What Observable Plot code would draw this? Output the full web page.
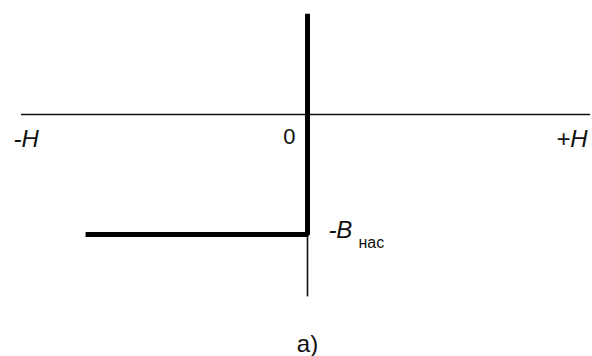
<!DOCTYPE html>
<html>
<head>
<meta charset="utf-8">
<script src="https://cdn.jsdelivr.net/npm/d3@7"></script>
<script src="https://cdn.jsdelivr.net/npm/@observablehq/plot@0.6"></script>
<style>
  html, body { margin: 0; padding: 0; background: #fff; }
  svg { display: block; }
</style>
</head>
<body>
<div id="chart"></div>
<script>
// H-axis extent (field strength, arbitrary units)
const hAxisFrom = -1;
const hAxisTo = 0.99;
// B-axis thin extension below the curve
const bAxisFrom = -1.52;
const bAxisTo = -1;
// Magnetisation curve (thick): vertical branch at H=0, then saturation -Bнас
const curveH = [0, 0, -0.776];
const curveB = [0.84, -1, -1];
// Labels
const labelText = ["-H", "0", "+H"];
const labelH = [-1.028, -0.063, 0.979];
const labelB = [-0.21, -0.19, -0.21];
const labelAnchor = ["start", "middle", "end"];
const labelItalic = ["italic", "normal", "italic"];
const satText = "-B";
const satSub = "нас";
const satH = 0.073, satB = -0.967;
const subH = 0.178, subB = -1.067;
const captionText = "а)";
const captionH = 0, captionB = -1.917;

const curve = curveH.map((h, i) => ({h, b: curveB[i]}));
const labels = labelText.map((t, i) => ({t, h: labelH[i], b: labelB[i], a: labelAnchor[i], s: labelItalic[i]}));

const font = "Liberation Sans, Arial, Helvetica, sans-serif";

const chart = Plot.plot({
  width: 592,
  height: 356,
  x: {domain: [-1, 1], range: [21, 593], axis: null},
  y: {domain: [1, -2], range: [-6, 354], axis: null},
  style: {fontFamily: font, background: "#fff", color: "#111"},
  marks: [
    Plot.ruleY([0], {x1: hAxisFrom, x2: hAxisTo, stroke: "#111", strokeWidth: 1.6}),
    Plot.ruleX([0], {y1: bAxisFrom, y2: bAxisTo, stroke: "#111", strokeWidth: 1.6}),
    Plot.line(curve, {x: "h", y: "b", stroke: "#000", strokeWidth: 5, strokeLinejoin: "miter", strokeLinecap: "butt"}),
    ...labels.map(l => Plot.text([l], {x: "h", y: "b", text: "t", textAnchor: l.a, fontStyle: l.s, fontSize: l.t === "0" ? 22 : 24, fill: "#111", fontFamily: font})),
    Plot.text([satText], {x: () => satH, y: () => satB, text: d => d, textAnchor: "start", fontStyle: "italic", fontSize: 24, fill: "#111", fontFamily: font}),
    Plot.text([satSub], {x: () => subH, y: () => subB, text: d => d, textAnchor: "start", fontSize: 16, fill: "#111", fontFamily: font}),
    Plot.text([captionText], {x: () => captionH, y: () => captionB, text: d => d, textAnchor: "middle", fontSize: 24, fill: "#111", fontFamily: font})
  ]
});
document.getElementById("chart").appendChild(chart);
</script>
</body>
</html>
